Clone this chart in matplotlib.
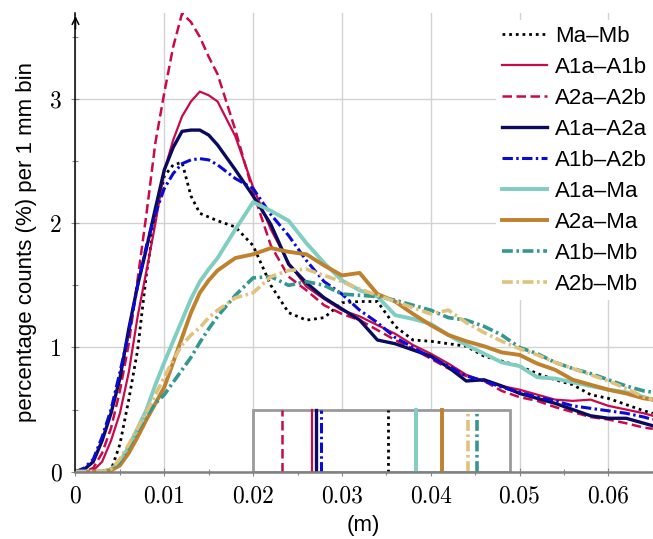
import numpy as np
import matplotlib
matplotlib.use("Agg")
import matplotlib.pyplot as plt
from matplotlib.ticker import MultipleLocator, FuncFormatter
from matplotlib.patches import Rectangle

# ---- data (distance in mm, converted to m) ----
x_mm = [0, 1, 2, 3, 4, 5, 6, 7, 8, 9, 10, 11, 12, 13, 14, 15, 16, 18, 20, 22, 24, 26, 28, 30,
        32, 34, 36, 38, 40, 42, 44, 46, 48, 50, 52, 54, 56, 58, 60, 62, 64, 65]

ma_mb = [0, 0, 0, 0, 0.01, 0.22, 0.58, 0.98, 1.6, 2.05, 2.38, 2.47, 2.49, 2.22, 2.08, 2.05, 2.02,
         1.97, 1.82, 1.50, 1.28, 1.22, 1.24, 1.36, 1.37, 1.37, 1.17, 1.06, 1.05, 1.03, 1.01, 0.93,
         0.89, 0.85, 0.79, 0.74, 0.70, 0.62, 0.59, 0.54, 0.49, 0.47]
a1a_a1b = [0, 0, 0.01, 0.08, 0.25, 0.47, 0.8, 1.25, 1.62, 2.0, 2.42, 2.67, 2.86, 2.98, 3.06, 3.03,
           2.98, 2.7, 2.29, 1.95, 1.68, 1.49, 1.39, 1.30, 1.25, 1.18, 1.11, 1.02, 0.95, 0.87, 0.78,
           0.73, 0.69, 0.66, 0.62, 0.58, 0.57, 0.58, 0.53, 0.50, 0.47, 0.45]
a2a_a2b = [0, 0, 0.03, 0.15, 0.35, 0.65, 1.03, 1.55, 2.08, 2.65, 3.05, 3.42, 3.69, 3.62, 3.50,
           3.34, 3.20, 2.75, 2.25, 1.82, 1.57, 1.46, 1.34, 1.27, 1.22, 1.14, 1.06, 0.99, 0.91, 0.83,
           0.77, 0.73, 0.65, 0.60, 0.57, 0.52, 0.48, 0.44, 0.42, 0.39, 0.355, 0.345]
a1a_a2a = [0, 0.02, 0.08, 0.25, 0.47, 0.75, 1.15, 1.5, 1.8, 2.12, 2.43, 2.61, 2.74, 2.75, 2.75,
           2.71, 2.63, 2.43, 2.22, 1.99, 1.67, 1.52, 1.40, 1.31, 1.22, 1.06, 1.03, 0.98, 0.93, 0.84,
           0.73, 0.74, 0.69, 0.63, 0.59, 0.55, 0.50, 0.45, 0.43, 0.43, 0.39, 0.37]
a1b_a2b = [0, 0.03, 0.1, 0.28, 0.5, 0.8, 1.12, 1.5, 1.82, 2.08, 2.28, 2.4, 2.48, 2.51, 2.52, 2.51,
           2.47, 2.36, 2.28, 2.07, 1.90, 1.70, 1.53, 1.43, 1.30, 1.20, 1.08, 1.00, 0.92, 0.85, 0.77,
           0.73, 0.68, 0.64, 0.60, 0.57, 0.53, 0.51, 0.49, 0.47, 0.44, 0.42]
a1a_ma = [0, 0, 0, 0, 0.02, 0.08, 0.2, 0.35, 0.5, 0.7, 0.88, 1.05, 1.22, 1.39, 1.53, 1.63, 1.72,
          1.95, 2.17, 2.10, 2.02, 1.84, 1.68, 1.54, 1.46, 1.41, 1.26, 1.23, 1.19, 1.10, 1.02, 0.95,
          0.88, 0.85, 0.76, 0.75, 0.72, 0.69, 0.66, 0.64, 0.60, 0.58]
a2a_ma = [0, 0, 0, 0, 0.01, 0.05, 0.15, 0.28, 0.42, 0.55, 0.68, 0.88, 1.08, 1.28, 1.44, 1.54,
          1.62, 1.72, 1.75, 1.80, 1.77, 1.75, 1.66, 1.58, 1.60, 1.43, 1.37, 1.27, 1.18, 1.10, 1.05,
          1.01, 0.96, 0.94, 0.87, 0.82, 0.74, 0.70, 0.66, 0.63, 0.59, 0.58]
a1b_mb = [0, 0, 0, 0, 0.02, 0.08, 0.2, 0.33, 0.45, 0.55, 0.62, 0.72, 0.82, 0.92, 1.04, 1.15,
          1.25, 1.42, 1.56, 1.57, 1.50, 1.53, 1.50, 1.43, 1.42, 1.41, 1.38, 1.34, 1.30, 1.24, 1.22,
          1.17, 1.10, 1.00, 0.95, 0.88, 0.83, 0.79, 0.74, 0.69, 0.65, 0.64]
a2b_mb = [0, 0, 0, 0, 0.02, 0.1, 0.22, 0.35, 0.48, 0.62, 0.76, 0.9, 1.02, 1.10, 1.16, 1.24, 1.30,
          1.40, 1.44, 1.57, 1.62, 1.63, 1.58, 1.53, 1.47, 1.42, 1.37, 1.32, 1.27, 1.30, 1.20, 1.12,
          1.05, 0.99, 0.94, 0.88, 0.83, 0.78, 0.73, 0.67, 0.60, 0.58]

labels = ["Ma\u2013Mb", "A1a\u2013A1b", "A2a\u2013A2b", "A1a\u2013A2a", "A1b\u2013A2b",
          "A1a\u2013Ma", "A2a\u2013Ma", "A1b\u2013Mb", "A2b\u2013Mb"]
# mean distances (m) marked in the inset box
means = [0.0352, 0.0266, 0.0232, 0.02705, 0.0276, 0.0383, 0.04127, 0.04521, 0.04424]

x = np.array(x_mm) / 1000.0
series = [ma_mb, a1a_a1b, a2a_a2b, a1a_a2a, a1b_a2b, a1a_ma, a2a_ma, a1b_mb, a2b_mb]

crimson = "#c80a4a"
styles = [
    dict(color="black", lw=2.0, ls=(0, (1, 1.4))),
    dict(color=crimson, lw=1.6, ls="-"),
    dict(color=crimson, lw=1.8, ls=(0, (3.8, 1.8))),
    dict(color="#0a0a5e", lw=2.4, ls="-"),
    dict(color="#0a0ad2", lw=2.2, ls=(0, (3.4, 1.1, 0.8, 1.1))),
    dict(color="#80cdc1", lw=2.8, ls="-"),
    dict(color="#bf812d", lw=2.8, ls="-"),
    dict(color="#35978f", lw=2.6, ls=(0, (3.0, 1.0, 0.7, 1.0))),
    dict(color="#dfc27d", lw=2.6, ls=(0, (3.0, 1.0, 0.7, 1.0))),
]

plt.rcParams["font.family"] = ["Liberation Sans", "DejaVu Sans"]

fig = plt.figure(figsize=(6.53, 5.39), dpi=100)
ax = fig.add_axes([0.1156, 0.1249, 0.884, 0.8504])

for ys, st, lab in zip(series, styles, labels):
    ax.plot(x, ys, label=lab, **st)

# inset box with mean markers
box_x0, box_x1, box_h = 0.02, 0.0489, 0.5
ax.add_patch(Rectangle((box_x0, 0), box_x1 - box_x0, box_h, facecolor="white",
                       edgecolor="#9a9a9a", lw=2.0, zorder=5))
for m, st in zip(means, styles):
    ax.plot([m, m], [0, box_h], zorder=6, **st)

ax.set_xlim(0, 0.065)
ax.set_ylim(0, 3.69)

ax.xaxis.set_major_locator(MultipleLocator(0.01))
ax.xaxis.set_minor_locator(MultipleLocator(0.005))
ax.yaxis.set_major_locator(MultipleLocator(1))
ax.yaxis.set_minor_locator(MultipleLocator(0.5))
ax.xaxis.set_major_formatter(FuncFormatter(lambda v, p: "0" if abs(v) < 1e-12 else f"{v:.2f}"))
ax.yaxis.set_major_formatter(FuncFormatter(lambda v, p: f"{int(round(v))}"))

ax.grid(True, which="major", color="#d2d2d2", lw=1.0)
ax.set_axisbelow(True)

for s in ["top", "right"]:
    ax.spines[s].set_visible(False)
ax.spines["left"].set_color("black")
ax.spines["left"].set_linewidth(1.1)
ax.spines["bottom"].set_color("#808080")
ax.spines["bottom"].set_linewidth(1.8)
ax.spines["bottom"].set_zorder(7)

ax.tick_params(which="major", direction="inout", length=6, width=0.8, color="#888888",
               labelsize=17, pad=7)
ax.tick_params(which="minor", direction="inout", length=4, width=0.8, color="#888888")
for lbl in ax.get_xticklabels() + ax.get_yticklabels():
    lbl.set_fontfamily("cmr10")

ax.annotate("", xy=(0, 1.0), xycoords="axes fraction", xytext=(0, 0.96),
            textcoords="axes fraction",
            arrowprops=dict(arrowstyle="->", color="black", lw=1.1, mutation_scale=12))

ax.set_ylabel("percentage counts (%) per 1 mm bin", fontsize=16)
ax.set_xlabel("(m)", fontsize=16)
ax.yaxis.set_label_coords(-0.066, 0.5)
ax.xaxis.set_label_coords(0.498, -0.094)

leg = ax.legend(loc="upper right", bbox_to_anchor=(1.0, 0.985), fontsize=16, frameon=True,
                fancybox=False, edgecolor="none", facecolor="white", framealpha=1.0,
                handlelength=2.05, labelspacing=0.45, borderaxespad=0.0,
                borderpad=0.25, handletextpad=0.35)
leg.set_zorder(10)

fig.savefig("out.png", dpi=100)
